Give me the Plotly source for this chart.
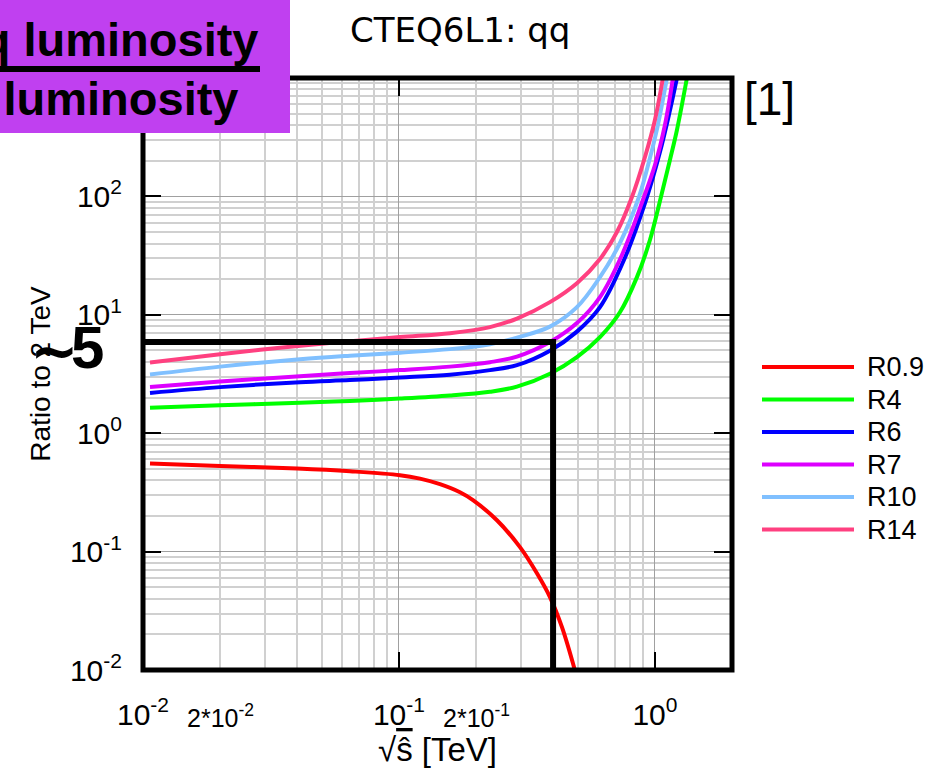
import numpy as np
import plotly.graph_objects as go

# ---- data -------------------------------------------------------------
series_names = ["R0.9", "R4", "R6", "R7", "R10", "R14"]
series_colors = ["#ff0000", "#00ff00", "#0000ff", "#dd00ff", "#80c0ff", "#ff4080"]

r09_x = [0.01065, 0.0200, 0.0400, 0.0644, 0.1009, 0.1208, 0.1446, 0.1731, 0.1946,
         0.2414, 0.2970, 0.3459, 0.3889, 0.4333, 0.4870]
r09_y = [0.554, 0.529, 0.503, 0.477, 0.442, 0.413, 0.371, 0.317, 0.272,
         0.184, 0.109, 0.0656, 0.0413, 0.0230, 0.0099]

r4_x = [0.01065, 0.0200, 0.04105, 0.06435, 0.1009, 0.1582, 0.2267, 0.2890, 0.3889,
        0.4957, 0.6099, 0.7299, 0.8506, 0.9560, 1.0554, 1.1444, 1.2189, 1.3335]
r4_y = [1.64, 1.72, 1.81, 1.87, 1.96, 2.08, 2.24, 2.47, 3.18,
        4.39, 6.48, 10.5, 20.8, 42.8, 98.8, 203, 364, 1000]

r6_x = [0.01065, 0.0200, 0.04105, 0.06435, 0.1009, 0.1582, 0.2267, 0.2890, 0.3889,
        0.4957, 0.6099, 0.7566, 0.9306, 1.0460, 1.1340, 1.2189]
r6_y = [2.19, 2.45, 2.70, 2.81, 2.95, 3.12, 3.41, 3.76, 4.98,
        7.21, 11.6, 29.0, 98.8, 237, 488, 1000]

r7_x = [0.01065, 0.0200, 0.04105, 0.06435, 0.1009, 0.1582, 0.2267, 0.2890, 0.3889,
        0.4957, 0.6099, 0.7431, 0.9059, 1.0, 1.0941, 1.1757]
r7_y = [2.46, 2.73, 3.03, 3.22, 3.41, 3.65, 3.98, 4.43, 5.88,
        8.51, 14.1, 32.0, 98.8, 184, 402, 1000]

r10_x = [0.01065, 0.0200, 0.04105, 0.06435, 0.1009, 0.1582, 0.2267, 0.2890, 0.3889,
         0.4957, 0.6099, 0.7299, 0.8660, 0.9560, 1.0274, 1.1139]
r10_y = [3.13, 3.65, 4.22, 4.52, 4.79, 5.13, 5.65, 6.42, 7.95,
         11.6, 20.8, 40.4, 98.8, 211, 402, 1000]

r14_x = [0.01065, 0.0200, 0.03429, 0.05881, 0.1009, 0.1582, 0.2267, 0.2890, 0.3889,
         0.4957, 0.6099, 0.7104, 0.8132, 0.9141, 1.0, 1.0746]
r14_y = [3.96, 4.65, 5.28, 5.88, 6.48, 7.00, 7.87, 9.29, 12.8,
         18.5, 29.6, 50.0, 98.8, 215, 442, 1000]

series_x = [r09_x, r4_x, r6_x, r7_x, r10_x, r14_x]
series_y = [r09_y, r4_y, r6_y, r7_y, r10_y, r14_y]

# marker lines: energy cut and ratio level
cut_x = 0.4
cut_y = 5.9
cut_label_tilde = "~"
cut_label_value = "5"

x_major = [0.01, 0.1, 1]
x_major_text = ["10<sup>-2</sup>", "10<sup>-1</sup>", "10<sup>0</sup>"]
x_extra = [0.02, 0.2]
x_extra_text = ["2*10<sup>-2</sup>", "2*10<sup>-1</sup>"]
y_major = [0.01, 0.1, 1, 10, 100]
y_major_text = ["10<sup>-2</sup>", "10<sup>-1</sup>", "10<sup>0</sup>", "10<sup>1</sup>", "10<sup>2</sup>"]

# ---- geometry helpers (page pixels -> paper coords) -------------------
W, H = 946, 768
L, R, T, B = 143, 732, 78, 670


def pxx(px):
    return (px - L) / (R - L)


def pxy(py):
    return (B - py) / (B - T)


minor_x = [m * 10.0 ** e for e in (-2, -1, 0) for m in range(2, 10) if m * 10.0 ** e <= 2.0]
minor_y = [m * 10.0 ** e for e in (-2, -1, 0, 1, 2) for m in range(2, 10)]

FONT = "Liberation Sans, Arial, sans-serif"

fig = go.Figure()

for name, color, xs, ys in zip(series_names, series_colors, series_x, series_y):
    fig.add_trace(go.Scatter(
        x=xs, y=ys, name=name, mode="lines",
        line=dict(color=color, width=4, shape="spline", smoothing=1.0),
        showlegend=False, hoverinfo="skip",
    ))

fig.add_trace(go.Scatter(
    x=[x_major[0], cut_x, cut_x], y=[cut_y, cut_y, y_major[0]],
    mode="lines", line=dict(color="black", width=6),
    showlegend=False, hoverinfo="skip",
))

axis_common = dict(
    type="log",
    ticks="inside", ticklen=18, tickwidth=2, tickcolor="black",
    showline=True, linecolor="black", linewidth=1, mirror="ticks",
    showgrid=True, gridcolor="#a0a0a0", gridwidth=1,
    tickfont=dict(family=FONT, size=30, color="black"),
    zeroline=False,
)

fig.update_xaxes(
    **axis_common,
    range=[-2, np.log10(2)],
    tickmode="array", tickvals=x_major, ticktext=x_major_text,
    minor=dict(tickmode="array", tickvals=minor_x, showgrid=True,
               gridcolor="#d0d0d0", gridwidth=2, ticks=""),
    ticklabelstandoff=18,
    title=dict(text="\u221a<span style='text-decoration:overline'>\u015d</span> [TeV]\u00a0\u00a0",
               font=dict(family=FONT, size=33, color="black"), standoff=3),
)
fig.update_yaxes(
    **axis_common,
    range=[-2, 3],
    tickmode="array", tickvals=y_major, ticktext=y_major_text,
    minor=dict(tickmode="array", tickvals=minor_y, showgrid=True,
               gridcolor="#d0d0d0", gridwidth=2, ticks=""),
    ticklabelstandoff=14,
    title=dict(text="Ratio to 2 TeV", font=dict(family=FONT, size=28, color="black"),
               standoff=11),
)

shapes = [
    # frame
    dict(type="rect", xref="paper", yref="paper", x0=0, x1=1, y0=0, y1=1,
         line=dict(color="black", width=5), layer="above"),
    # purple header box
    dict(type="rect", xref="paper", yref="paper", x0=pxx(-10), x1=pxx(290),
         y0=pxy(133), y1=pxy(-10), fillcolor="#c040f0", line=dict(width=0), layer="above"),
    # fraction bar
    dict(type="line", xref="paper", yref="paper", x0=pxx(-10), x1=pxx(260),
         y0=pxy(69), y1=pxy(69), line=dict(color="black", width=6), layer="above"),
]

annotations = [
    dict(text="CTEQ6L1: qq", x=pxx(460), y=pxy(30), xref="paper", yref="paper",
         xanchor="center", yanchor="middle", showarrow=False,
         font=dict(family="DejaVu Sans", size=34, color="black")),
    dict(text="[1]", x=pxx(742), y=pxy(99), xref="paper", yref="paper",
         xanchor="left", yanchor="middle", showarrow=False,
         font=dict(family=FONT, size=46, color="black")),
    dict(text="<b>qq luminosity</b>", x=pxx(261), y=pxy(39), xref="paper", yref="paper",
         xanchor="right", yanchor="middle", showarrow=False,
         font=dict(family=FONT, size=47, color="black")),
    dict(text="<b>qq luminosity</b>", x=pxx(241), y=pxy(98), xref="paper", yref="paper",
         xanchor="right", yanchor="middle", showarrow=False,
         font=dict(family=FONT, size=47, color="black")),
    dict(text="<b>" + cut_label_tilde + "</b>", x=pxx(54), y=pxy(351), xref="paper", yref="paper",
         xanchor="center", yanchor="middle", showarrow=False,
         font=dict(family="DejaVu Sans", size=58, color="black")),
    dict(text="<b>" + cut_label_value + "</b>", x=pxx(69), y=pxy(347), xref="paper", yref="paper",
         xanchor="left", yanchor="middle", showarrow=False,
         font=dict(family=FONT, size=60, color="black")),
]

for xv, txt in zip(x_extra, x_extra_text):
    annotations.append(dict(
        text=txt, x=np.log10(xv), y=pxy(716), xref="x", yref="paper",
        xanchor="center", yanchor="middle", showarrow=False,
        font=dict(family=FONT, size=25, color="black")))

# legend drawn beside the frame
for i, (name, color) in enumerate(zip(series_names, series_colors)):
    yc = 367 + 32.5 * i
    shapes.append(dict(type="line", xref="paper", yref="paper",
                       x0=pxx(762), x1=pxx(854), y0=pxy(yc), y1=pxy(yc),
                       line=dict(color=color, width=4)))
    annotations.append(dict(text=name, x=pxx(865), y=pxy(yc), xref="paper", yref="paper",
                            xanchor="left", yanchor="middle", showarrow=False,
                            font=dict(family=FONT, size=27, color="black")))

fig.update_layout(
    width=W, height=H, autosize=False,
    margin=dict(l=L, r=W - R, t=T, b=H - B, pad=0),
    paper_bgcolor="white", plot_bgcolor="white",
    shapes=shapes, annotations=annotations,
    showlegend=False,
)

fig.write_html("out.html")
